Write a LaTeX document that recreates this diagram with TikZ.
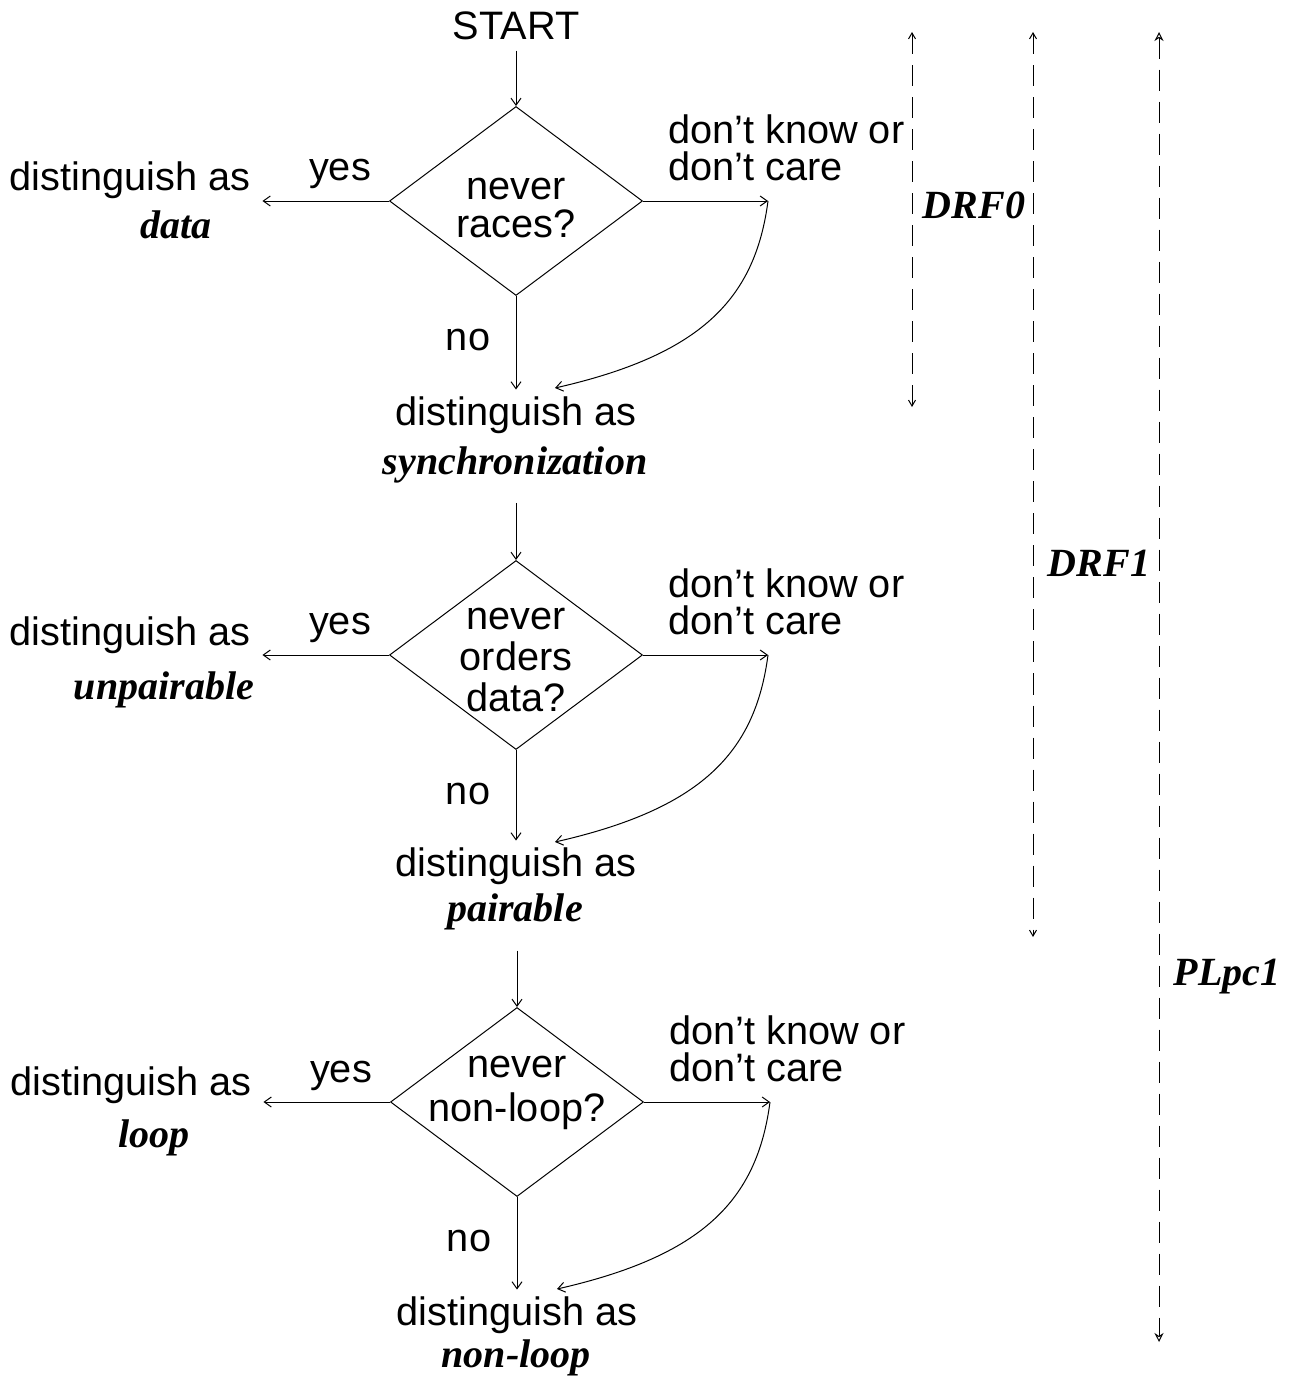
\documentclass[tikz,border=0pt]{standalone}
\usepackage{fontspec}
\setmainfont{Liberation Sans}
\newfontfamily\emfont{Liberation Serif}
\usetikzlibrary{shapes.geometric,arrows.meta}

\tikzset{
  txt/.style={inner sep=0pt, anchor=base, font=\fontsize{39.7}{47}\selectfont},
  emtxt/.style={inner sep=0pt, anchor=base, font=\fontsize{40}{47}\selectfont\emfont\bfseries\itshape},
  decision/.style={diamond, draw, line width=1pt, minimum width=253pt, minimum height=189pt, inner sep=0pt},
  flow/.style={line width=1pt, -{Straight Barb[length=7pt,width=10pt,line width=1pt]}},
  spanline/.style={line width=1pt, dash pattern=on 21pt off 11pt,
    {Straight Barb[length=6pt,width=7pt,line width=1pt]}-{Straight Barb[length=6pt,width=7pt,line width=1pt]}},
  widespan/.style={line width=1pt, dash pattern=on 21pt off 11pt,
    {Stealth[open,length=9pt,width=9pt,line width=1pt]}-{Stealth[open,length=9pt,width=9pt,line width=1pt]}},
}

\begin{document}
\begin{tikzpicture}[x=1pt,y=-1pt]
\useasboundingbox (0,0) rectangle (1288,1378);

% ---------- first decision ----------
\node[txt] (start) at (516,40) {START};
\node[decision] (q1) at (516,201) {};
\node[txt] (q1a) at (516,199) {never};
\node[txt] (q1b) at (516,237) {races?};
\node[txt] (y1) at (340,180) {yes};
\node[txt] (n1) at (468,350) {no};
\node[txt,anchor=base west] (k1a) at (668,143) {don’t know or};
\node[txt,anchor=base west] (k1b) at (668,180) {don’t care};
\node[txt] (l1a) at (130,190) {distinguish as};
\node[emtxt] (l1b) at (176,238) {data};
\node[txt] (s1a) at (516,425) {distinguish as};
\node[emtxt] (s1b) at (515,474) {synchronization};
\coordinate (k1) at (768,201);
\coordinate (m1) at (555,388);

\draw[flow, shorten <=10pt] (start.south) -- (q1.north);
\draw[flow, shorten >=12pt] (q1.west) -- (q1.west -| l1a.east);
\draw[flow] (q1.east) -- (k1);
\draw[flow, shorten >=6.5pt] (q1.south) -- (q1.south |- s1a.north);
\draw[flow] (k1) .. controls +(-13,99) and +(145,-33) .. (m1);

% ---------- second decision ----------
\node[decision] (q2) at (516,655) {};
\node[txt] (q2a) at (516,629) {never};
\node[txt] (q2b) at (516,670) {orders};
\node[txt] (q2c) at (516,711) {data?};
\node[txt] (y2) at (340,634) {yes};
\node[txt] (n2) at (468,804) {no};
\node[txt,anchor=base west] (k2a) at (668,597) {don’t know or};
\node[txt,anchor=base west] (k2b) at (668,634) {don’t care};
\node[txt] (l2a) at (130,645) {distinguish as};
\node[emtxt] (l2b) at (164,699) {unpairable};
\node[txt] (s2a) at (516,876) {distinguish as};
\node[emtxt] (s2b) at (515,921) {pairable};
\coordinate (k2) at (768,655);
\coordinate (m2) at (555,842);

\draw[flow, shorten <=20pt] (q2.north |- s1b.south) -- (q2.north);
\draw[flow, shorten >=12pt] (q2.west) -- (q2.west -| l2a.east);
\draw[flow] (q2.east) -- (k2);
\draw[flow, shorten >=6.5pt] (q2.south) -- (q2.south |- s2a.north);
\draw[flow] (k2) .. controls +(-13,99) and +(145,-33) .. (m2);

% ---------- third decision ----------
\node[decision] (q3) at (517,1102) {};
\node[txt] (q3a) at (517,1077) {never};
\node[txt] (q3b) at (517,1121) {non-loop?};
\node[txt] (y3) at (341,1082) {yes};
\node[txt] (n3) at (469,1251) {no};
\node[txt,anchor=base west] (k3a) at (669,1044) {don’t know or};
\node[txt,anchor=base west] (k3b) at (669,1081) {don’t care};
\node[txt] (l3a) at (131,1095) {distinguish as};
\node[emtxt] (l3b) at (154,1147) {loop};
\node[txt] (s3a) at (517,1325) {distinguish as};
\node[emtxt] (s3b) at (516,1367) {non-loop};
\coordinate (k3) at (770,1102);
\coordinate (m3) at (557,1289);

\draw[flow, shorten <=21pt] (q3.north |- s2b.south) -- (q3.north);
\draw[flow, shorten >=12pt] (q3.west) -- (q3.west -| l3a.east);
\draw[flow] (q3.east) -- (k3);
\draw[flow, shorten >=6.5pt] (q3.south) -- (q3.south |- s3a.north);
\draw[flow] (k3) .. controls +(-13,99) and +(145,-33) .. (m3);

% ---------- model spans ----------
\coordinate (r0t) at (912,32);
\coordinate (r0b) at (912,407);
\coordinate (r1t) at (1033,32);
\coordinate (r1b) at (1033,937);
\coordinate (r2t) at (1159,32);
\coordinate (r2b) at (1159,1342);
\draw[spanline] (r0t) -- (r0b);
\draw[spanline] (r1t) -- (r1b);
\draw[widespan] (r2t) -- (r2b);
\node[emtxt] (drf0) at (974,218) {DRF0};
\node[emtxt] (drf1) at (1099,576) {DRF1};
\node[emtxt] (plpc1) at (1227,985) {PLpc1};
\end{tikzpicture}
\end{document}
